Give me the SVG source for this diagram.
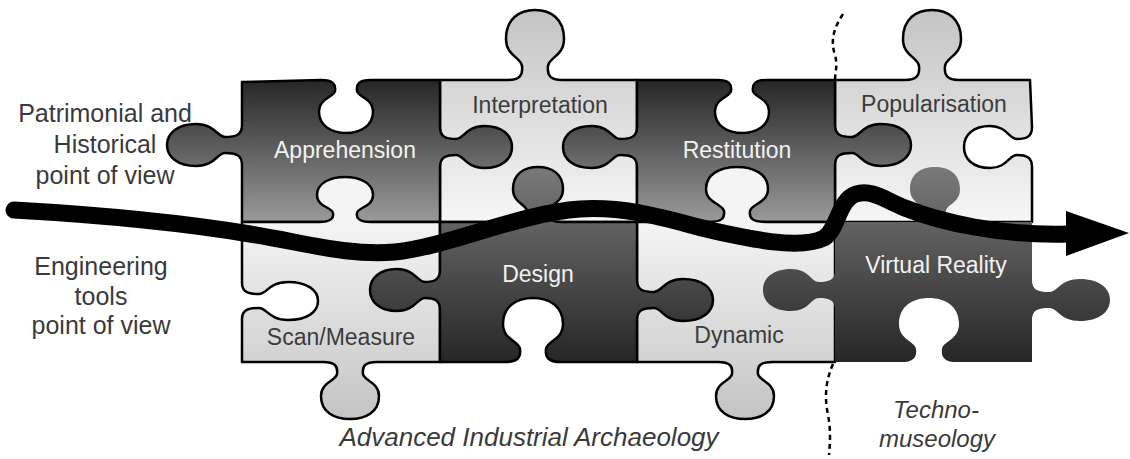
<svg xmlns="http://www.w3.org/2000/svg" width="1130" height="459" viewBox="0 0 1130 459">
<defs>
<linearGradient id="gTopDark" gradientUnits="userSpaceOnUse" x1="0" y1="80" x2="0" y2="222"><stop offset="0" stop-color="#262626"/><stop offset="1" stop-color="#9a9a9a"/></linearGradient>
<linearGradient id="gTopLight" gradientUnits="userSpaceOnUse" x1="0" y1="10" x2="0" y2="222"><stop offset="0" stop-color="#c4c4c4"/><stop offset="1" stop-color="#f6f6f6"/></linearGradient>
<linearGradient id="gBotDark" gradientUnits="userSpaceOnUse" x1="0" y1="167" x2="0" y2="362"><stop offset="0" stop-color="#7a7a7a"/><stop offset="1" stop-color="#262626"/></linearGradient>
<linearGradient id="gBotLight" gradientUnits="userSpaceOnUse" x1="0" y1="222" x2="0" y2="419"><stop offset="0" stop-color="#f4f4f4"/><stop offset="1" stop-color="#c4c4c4"/></linearGradient>
<style>
.pc{stroke:#000;stroke-width:2.5;stroke-linejoin:round}
.td{fill:url(#gTopDark)}
.tl{fill:url(#gTopLight)}
.bd{fill:url(#gBotDark)}
.bl{fill:url(#gBotLight)}
text{font-family:"Liberation Sans",Arial,sans-serif;text-anchor:middle}
.lab{font-size:23px}
.ld{fill:#3c3c3c}
.ll{fill:#f2f2f2}
.side{font-size:25px;fill:#3a3a3a}
.it{font-size:26px;font-style:italic;fill:#3a3a3a}
.it2{font-size:24px;font-style:italic;fill:#3a3a3a}
</style>
</defs>
<rect width="1130" height="459" fill="#fff"/>
<g id="interpretation">
<path class="pc tl" d="M440,80 L508,80 C520,80 523,75 522,66 C521,57 506,56 506,39 C506,19 519,10 535,10 C551,10 564,19 564,39 C564,56 549,57 548,66 C547,75 550,80 562,80 L637,80 L637,222 L440,222 Z"/>
<text class="lab ld" x="540" y="113">Interpretation</text>
</g>
<g id="popularisation">
<path class="pc tl" d="M835,80 L905,80 C917,80 920,75 919,66 C918,57 903,56 903,39 C903,19 916,10 932,10 C948,10 961,19 961,39 C961,56 946,57 945,66 C944,75 947,80 959,80 L1030,80 L1032,127 C1032,137 1026,139 1017,139 C1009,139 1007,126 990,126 C973,126 964,135 964,147 C964,159 973,168 990,168 C1007,168 1009,155 1017,155 C1026,155 1032,157 1032,167 L1032,222 L835,222 Z"/>
<text class="lab ld" x="934" y="112">Popularisation</text>
</g>
<g id="apprehension">
<path class="pc td" d="M242,82 L321,80 C333,80 336,84 335,91 C334,97 319,98 319,112 C319,126 332,133 346,133 C360,133 373,126 373,112 C373,98 358,97 357,91 C356,84 359,80 371,80 L440,80 L440,127 C440,137 446,139 456,139 C464,139 466,126 484,126 C502,126 512,135 512,147 C512,159 502,168 484,168 C466,168 464,155 456,155 C446,155 440,157 440,167 L440,222 L242,222 L242,165 C242,155 236,153 225,153 C217,153 215,166 196,166 C178,166 167,157 167,145 C167,133 178,124 196,124 C215,124 217,137 225,137 C236,137 242,135 242,125 Z"/>
<text class="lab ll" x="345" y="158">Apprehension</text>
</g>
<g id="restitution">
<path class="pc td" d="M637,80 L717,80 C729,80 732,84 731,91 C730,97 715,98 715,112 C715,126 728,133 742,133 C756,133 769,126 769,112 C769,98 754,97 753,91 C752,84 755,80 767,80 L835,80 L835,125 C835,135 841,137 852,137 C860,137 862,124 881,124 C900,124 911,133 911,145 C911,157 900,166 881,166 C862,166 860,153 852,153 C841,153 835,155 835,165 L835,222 L637,222 L637,167 C637,157 631,155 620,155 C612,155 610,168 592,168 C573,168 563,159 563,147 C563,135 573,126 592,126 C610,126 612,139 620,139 C631,139 637,137 637,127 Z"/>
<text class="lab ll" x="737" y="158">Restitution</text>
</g>
<g id="scan-measure">
<path class="pc bl" d="M242,222 L319,222 C331,222 334,218 333,213 C332,207 317,207 317,195 C317,183 330,177 345,177 C360,177 373,183 373,195 C373,207 358,207 357,213 C356,218 359,222 371,222 L440,222 L440,362 L377,362 C365,362 362,366 363,374 C364,381 379,382 379,396 C379,412 366,419 350,419 C334,419 321,412 321,396 C321,382 336,381 337,374 C338,366 335,362 323,362 L242,362 L242,319 C242,310 248,308 259,308 C267,308 269,320 288,320 C307,320 318,312 318,301 C318,290 307,282 288,282 C269,282 267,294 259,294 C248,294 242,292 242,283 Z"/>
<text class="lab ld" x="341" y="345">Scan/Measure</text>
</g>
<g id="dynamic">
<path class="pc bl" d="M637,222 L708,222 C722,222 725,218 724,211 C723,204 706,203 706,189 C706,174 720,167 737,167 C754,167 768,174 768,189 C768,203 751,204 750,211 C749,218 752,222 766,222 L835,222 L835,362 L772,362 C760,362 757,366 758,374 C759,381 774,382 774,396 C774,412 761,419 745,419 C729,419 716,412 716,396 C716,382 731,381 732,374 C733,366 730,362 718,362 L637,362 Z"/>
<text class="lab ld" x="739" y="343">Dynamic</text>
</g>
<g id="design">
<path class="pc bd" d="M440,222 L515,222 C525,222 528,218 527,211 C526,204 513,203 513,189 C513,174 524,167 538,167 C552,167 563,174 563,189 C563,203 550,204 549,211 C548,218 551,222 561,222 L637,222 L637,280 C637,290 643,292 654,292 C662,292 664,279 683,279 C702,279 713,288 713,300 C713,312 702,321 683,321 C664,321 662,308 654,308 C643,308 637,310 637,320 L637,362 L561,362 C548,362 545,357 546,349 C547,341 563,340 563,324 C563,306 549,298 533,298 C517,298 503,306 503,324 C503,340 519,341 520,349 C521,357 518,362 505,362 L440,362 L440,310 C440,300 434,298 425,298 C417,298 415,311 397,311 C380,311 370,302 370,290 C370,278 380,269 397,269 C415,269 417,282 425,282 C434,282 440,280 440,270 Z"/>
<text class="lab ll" x="538" y="282">Design</text>
</g>
<g id="virtual-reality">
<path class="bd" d="M835,222 L912,222 C922,222 925,218 924,211 C923,204 910,203 910,189 C910,174 921,167 935,167 C949,167 960,174 960,189 C960,203 947,204 946,211 C945,218 948,222 958,222 L1032,222 L1032,280 C1032,290 1038,292 1049,292 C1058,292 1060,279 1080,279 C1099,279 1110,288 1110,300 C1110,312 1099,321 1080,321 C1060,321 1058,308 1049,308 C1038,308 1032,310 1032,320 L1032,362 L957,362 C944,362 941,357 942,349 C943,341 959,340 959,324 C959,306 945,298 929,298 C913,298 899,306 899,324 C899,340 915,341 916,349 C917,357 914,362 901,362 L835,362 L835,310 C835,300 829,298 819,298 C811,298 809,311 791,311 C773,311 763,302 763,290 C763,278 773,269 791,269 C809,269 811,282 819,282 C829,282 835,280 835,270 Z"/>
<text class="lab ll" x="936" y="273">Virtual Reality</text>
</g>
<g id="divider" fill="none" stroke="#000" stroke-width="2.5" stroke-dasharray="5 4">
<path d="M843,14 C834,28 830,40 835,55 C838,66 835,72 835,80"/>
<path d="M833,364 C826,380 824,396 828,415 C831,430 830,444 829,455"/>
</g>
<g id="connectors">
<path d="M14,210 C120,216 190,224 250,234 C310,244 350,256 395,252 C450,246 520,213 580,209 C630,206 670,220 710,230 C750,239 800,250 824,238 C838,230 838,200 856,194 C872,189 885,200 905,208 C940,222 1000,236 1068,234" fill="none" stroke="#000" stroke-width="17" stroke-linecap="round" stroke-linejoin="round"/>
<polygon points="1066,211 1129,233 1066,256" fill="#000"/>
</g>
<g id="annotations">
<text class="side" x="105" y="122">Patrimonial and</text>
<text class="side" x="105" y="153">Historical</text>
<text class="side" x="105" y="184">point of view</text>
<text class="side" x="101" y="275">Engineering</text>
<text class="side" x="101" y="305">tools</text>
<text class="side" x="101" y="334">point of view</text>
<text class="it" x="529" y="446">Advanced Industrial Archaeology</text>
<text class="it2" x="936" y="418">Techno-</text>
<text class="it2" x="937" y="447">museology</text>
</g>
</svg>
